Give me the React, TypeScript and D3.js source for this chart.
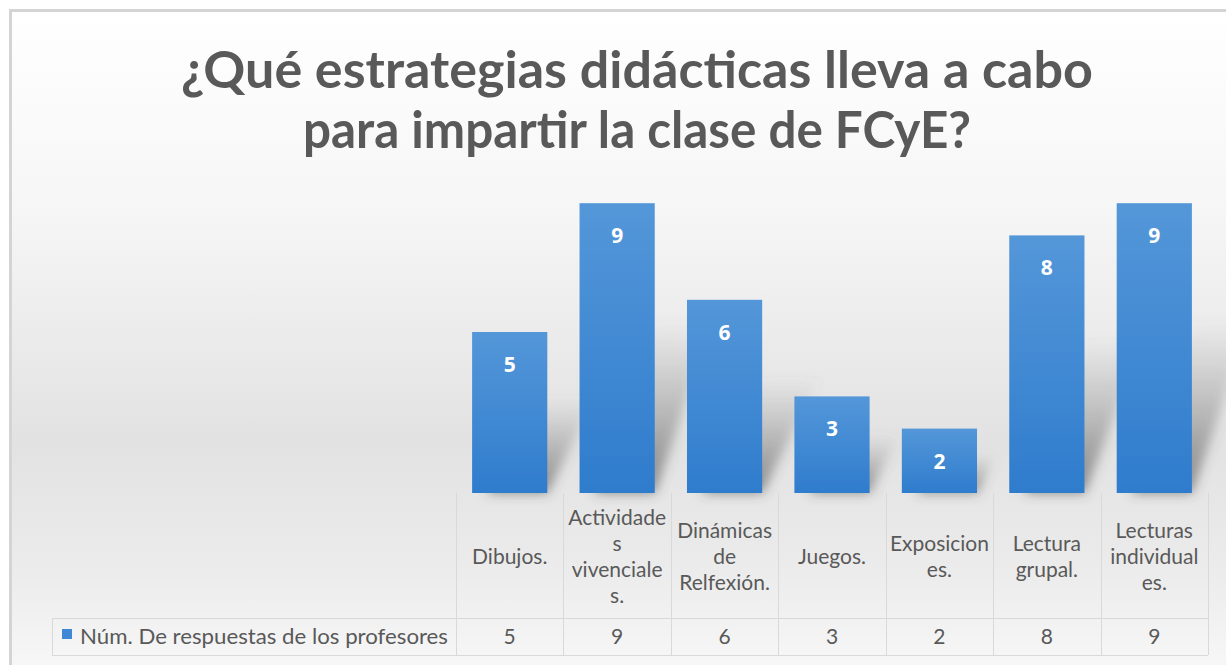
import React from 'react';
import * as d3 from 'd3';

const categories = [
  'Dibujos.',
  'Actividades vivenciales.',
  'Dinámicas de Relfexión.',
  'Juegos.',
  'Exposiciones.',
  'Lectura grupal.',
  'Lecturas individuales.',
];
// category labels as they wrap in the table header
const headerLines = [
  ['Dibujos.'],
  ['Actividade', 's', 'vivenciale', 's.'],
  ['Dinámicas', 'de', 'Relfexión.'],
  ['Juegos.'],
  ['Exposicion', 'es.'],
  ['Lectura', 'grupal.'],
  ['Lecturas', 'individual', 'es.'],
];
const values = [5, 9, 6, 3, 2, 8, 9];
const seriesName = 'Núm. De respuestas de los profesores';
const titleLines = ['¿Qué estrategias didácticas lleva a cabo', 'para impartir la clase de FCyE?'];

const W = 1226;
const H = 665;

const App = () => {
  const ref = React.useRef<SVGSVGElement>(null);

  React.useEffect(() => {
    const svg = d3.select(ref.current);
    svg.selectAll('*').remove();

    const tableLeft = 52, colLeft = 456, colRight = 1208;
    const baseY = 493, headerBottom = 618, tableBottom = 655;

    const x = d3.scaleBand().domain(categories).range([colLeft, colRight]).paddingInner(0.3).paddingOuter(0.15);
    const col = d3.scaleBand().domain(categories).range([colLeft, colRight]).padding(0);
    const y = d3.scaleLinear().domain([0, 10]).range([baseY, 171]);

    const defs = svg.append('defs');
    const bg = defs.append('linearGradient').attr('id', 'bg').attr('x1', 0).attr('y1', 0).attr('x2', 0).attr('y2', 1);
    bg.append('stop').attr('offset', '0%').attr('stop-color', '#ffffff');
    bg.append('stop').attr('offset', '30%').attr('stop-color', '#f6f6f6');
    bg.append('stop').attr('offset', '65%').attr('stop-color', '#e2e2e2');
    bg.append('stop').attr('offset', '85%').attr('stop-color', '#ececec');
    bg.append('stop').attr('offset', '100%').attr('stop-color', '#f8f8f8');

    const barG = defs.append('linearGradient').attr('id', 'barG').attr('x1', 0).attr('y1', 0).attr('x2', 0).attr('y2', 1);
    barG.append('stop').attr('offset', '0%').attr('stop-color', '#5497d9');
    barG.append('stop').attr('offset', '100%').attr('stop-color', '#2f7ccd');

    const shG = defs.append('linearGradient').attr('id', 'shG').attr('x1', 0).attr('y1', 1).attr('x2', 0).attr('y2', 0);
    shG.append('stop').attr('offset', '0%').attr('stop-color', '#444').attr('stop-opacity', 0.6);
    shG.append('stop').attr('offset', '100%').attr('stop-color', '#777').attr('stop-opacity', 0);

    defs.append('filter').attr('id', 'blur').attr('x', '-50%').attr('y', '-50%').attr('width', '200%').attr('height', '200%')
      .append('feGaussianBlur').attr('stdDeviation', 6);

    // background + frame
    svg.append('rect').attr('x', 10).attr('y', 10).attr('width', W).attr('height', H)
      .attr('fill', 'url(#bg)');
    svg.append('path').attr('d', `M10.5,${H} V10.5 H${W}`)
      .attr('fill', 'none').attr('stroke', '#d4d4d4').attr('stroke-width', 3);

    // title
    svg.append('g').selectAll('text').data(titleLines).enter().append('text')
      .attr('x', 637).attr('y', (d, i) => 88 + i * 60)
      .attr('text-anchor', 'middle')
      .attr('textLength', (d, i) => (i === 0 ? 912 : 668))
      .attr('lengthAdjust', 'spacingAndGlyphs')
      .style('font-family', 'Lato, "Open Sans", sans-serif')
      .style('font-weight', 700)
      .style('font-size', '51px')
      .attr('fill', '#595959')
      .text(d => d);

    // bar shadows
    const bw = x.bandwidth();
    svg.append('g').attr('filter', 'url(#blur)').selectAll('path').data(values).enter().append('path')
      .attr('d', (d, i) => {
        const x0 = x(categories[i]) as number;
        const h = baseY - y(d);
        const rise = h * 0.6, s = Math.min(h * 0.3, 60);
        return `M${x0 + bw * 0.2},${baseY} L${x0 + bw},${baseY} L${x0 + bw + s},${baseY - rise} L${x0 + bw * 0.2 + s},${baseY - rise} Z`;
      })
      .attr('fill', 'url(#shG)');

    // bars
    svg.append('g').selectAll('rect').data(values).enter().append('rect')
      .attr('x', (d, i) => x(categories[i]) as number)
      .attr('y', d => y(d))
      .attr('width', bw)
      .attr('height', d => baseY - y(d))
      .attr('fill', 'url(#barG)');

    // data labels
    svg.append('g').selectAll('text').data(values).enter().append('text')
      .attr('x', (d, i) => (x(categories[i]) as number) + bw / 2)
      .attr('y', d => y(d) + 40)
      .attr('text-anchor', 'middle')
      .style('font-family', '"Open Sans", sans-serif')
      .style('font-weight', 700)
      .style('font-size', '21px')
      .attr('fill', '#ffffff')
      .text(d => d);

    // data table
    const grid = svg.append('g').attr('stroke', '#d9d9d9').attr('stroke-width', 1).attr('fill', 'none');
    const edges = [...categories.map(c => col(c) as number), colRight];
    grid.selectAll('line.v').data(edges).enter().append('line')
      .attr('x1', d => Math.round(d) + 0.5).attr('x2', d => Math.round(d) + 0.5)
      .attr('y1', baseY).attr('y2', tableBottom);
    grid.append('line').attr('x1', tableLeft + 0.5).attr('x2', tableLeft + 0.5).attr('y1', headerBottom).attr('y2', tableBottom);
    grid.append('line').attr('x1', tableLeft).attr('x2', colRight).attr('y1', headerBottom + 0.5).attr('y2', headerBottom + 0.5);
    grid.append('line').attr('x1', tableLeft).attr('x2', colRight).attr('y1', tableBottom + 0.5).attr('y2', tableBottom + 0.5);

    const font = 'Lato, "Open Sans", sans-serif';
    const lineH = 26;
    const headers = svg.append('g').selectAll('text').data(headerLines).enter().append('text')
      .attr('text-anchor', 'middle')
      .style('font-family', font)
      .style('font-size', '21px')
      .attr('fill', '#595959');
    headers.each(function (lines, i) {
      const cx = (col(categories[i]) as number) + col.bandwidth() / 2;
      const startY = (baseY + headerBottom) / 2 + 8 - ((lines.length - 1) * lineH) / 2;
      d3.select(this).selectAll('tspan').data(lines).enter().append('tspan')
        .attr('x', cx).attr('y', (l, j) => startY + j * lineH).text(l => l);
    });

    svg.append('g').selectAll('text').data(values).enter().append('text')
      .attr('x', (d, i) => (col(categories[i]) as number) + col.bandwidth() / 2)
      .attr('y', 644)
      .attr('text-anchor', 'middle')
      .style('font-family', font)
      .style('font-size', '21px')
      .attr('fill', '#595959')
      .text(d => d);

    // legend key
    svg.append('rect').attr('x', 62).attr('y', 629).attr('width', 10).attr('height', 10).attr('fill', '#3f88d6');
    svg.append('text').attr('x', 80).attr('y', 644)
      .attr('textLength', 368).attr('lengthAdjust', 'spacingAndGlyphs')
      .style('font-family', font).style('font-size', '21px').attr('fill', '#595959')
      .text(seriesName);
  }, []);

  return (
    <svg ref={ref} width={W} height={H} style={{ position: 'absolute', left: 0, top: 0, background: '#ffffff' }} />
  );
};

export default App;
